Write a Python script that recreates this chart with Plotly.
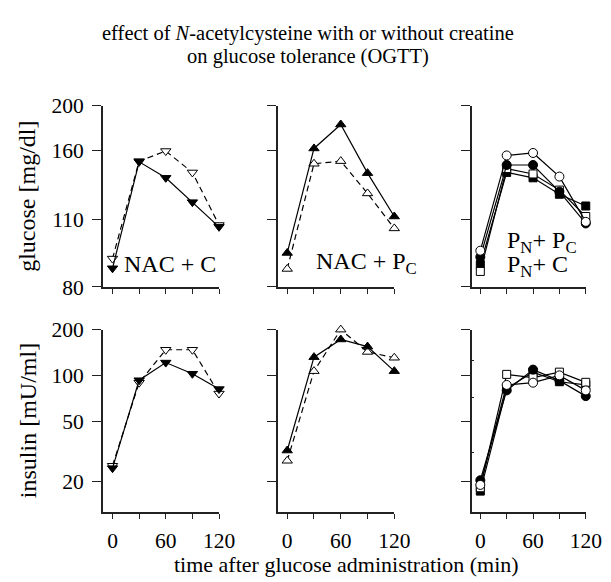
import numpy as np
import plotly.graph_objects as go

# ---------------- data ----------------
time_min = [0, 30, 60, 90, 120]
x_major_vals = [0, 60, 120]
x_major_text = ["0", "60", "120"]
x_minor_vals = [30, 90]

# glucose axis (tick labels and their relative positions as printed on the original axis)
glu_tick_vals = [80, 110, 160, 200]
glu_tick_pos = [0.0, 0.373, 0.754, 1.0]
glu_tick_text = ["80", "110", "160", "200"]

ins_tick_vals = [20, 50, 100, 200]
ins_tick_text = ["20", "50", "100", "200"]
ins_minor_vals = [31, 72, 125]
ins_range = [12.64, 200]

# panel 1: NAC + C
g_nac_c_solid = [88.3, 151.7, 140.1, 122.5, 106.7]
g_nac_c_dash = [92.6, 152.2, 159.5, 144.0, 107.5]
i_nac_c_solid = [24.5, 92.9, 121.4, 102.5, 81.2]
i_nac_c_dash = [25.4, 89.5, 147.4, 147.4, 75.9]

# panel 2: NAC + P_C
g_nac_pc_solid = [95.1, 161.7, 183.2, 143.5, 112.1]
g_nac_pc_dash = [88.0, 150.3, 152.2, 128.8, 106.0]
i_nac_pc_solid = [32.0, 131.8, 172.3, 154.7, 106.6]
i_nac_pc_dash = [27.4, 106.6, 200.0, 142.6, 130.6]

# panel 3: P_N + P_C / P_N + C
g_pn_open_circle = [96.1, 156.3, 158.1, 141.0, 108.9]
g_pn_fill_circle = [93.3, 149.4, 149.4, 130.1, 108.2]
g_pn_open_square = [86.9, 146.8, 142.9, 131.2, 112.1]
g_pn_fill_square = [90.0, 144.0, 140.1, 128.2, 119.7]
i_pn_open_circle = [19.0, 86.5, 89.5, 100.0, 79.6]
i_pn_fill_circle = [20.4, 79.6, 109.1, 92.3, 73.0]
i_pn_open_square = [18.2, 101.5, 96.6, 105.0, 90.0]
i_pn_fill_square = [17.3, 82.0, 105.0, 90.8, 86.5]

title_lines = ["effect of <i>N</i>-acetylcysteine with or without creatine",
               "on glucose tolerance (OGTT)"]
panel_labels = ["NAC + C", "NAC + P<sub>C</sub>"]
panel3_labels = ["P<sub>N</sub>+ P<sub>C</sub>", "P<sub>N</sub>+ C"]
y_titles = ["glucose [mg/dl]", "insulin [mU/ml]"]
x_title = "time after glucose administration (min)"


def glu(v):
    return list(np.interp(v, glu_tick_vals, glu_tick_pos))


W, H = 611, 582
FONT = "Liberation Serif"
AX = "#222222"

fig = go.Figure()

col_px = [(97.3, 216.7), (277.3, 396.7), (476.0, 593.3)]
x_lo = [-11.0, -10.3, -10.0]
row_top_px = (90.5, 279.5)
row_bot_px = (324.0, 514.0)


def px_x(a, b):
    return [a / W, b / W]


def px_y(a, b):
    return [1 - b / H, 1 - a / H]


def add_line(xref, yref, y, dash, symbol, filled, size=9):
    fig.add_trace(go.Scatter(
        x=time_min, y=y, xaxis=xref, yaxis=yref, mode="lines+markers",
        line=dict(color="black", width=1.2, dash="6px,4px" if dash else "solid"),
        marker=dict(symbol=symbol, size=size,
                    color="black" if filled else "white",
                    line=dict(color="black", width=1)),
        cliponaxis=False, showlegend=False, hoverinfo="skip"))


# glucose row axes: x1..x3 / y1..y3 ; insulin row: x4..x6 / y4..y6
# panel 1
add_line("x", "y", glu(g_nac_c_dash), True, "triangle-down", False)
add_line("x", "y", glu(g_nac_c_solid), False, "triangle-down", True)
add_line("x4", "y4", i_nac_c_dash, True, "triangle-down", False)
add_line("x4", "y4", i_nac_c_solid, False, "triangle-down", True)
# panel 2
add_line("x2", "y2", glu(g_nac_pc_dash), True, "triangle-up", False)
add_line("x2", "y2", glu(g_nac_pc_solid), False, "triangle-up", True)
add_line("x5", "y5", i_nac_pc_dash, True, "triangle-up", False)
add_line("x5", "y5", i_nac_pc_solid, False, "triangle-up", True)
# panel 3
for yref, data in (("y3", [glu(g_pn_fill_square), glu(g_pn_open_square),
                           glu(g_pn_fill_circle), glu(g_pn_open_circle)]),
                   ("y6", [i_pn_fill_square, i_pn_open_square,
                           i_pn_fill_circle, i_pn_open_circle])):
    xref = "x3" if yref == "y3" else "x6"
    add_line(xref, yref, data[0], False, "square", True, 8)
    add_line(xref, yref, data[1], False, "square", False, 8)
    add_line(xref, yref, data[2], False, "circle", True, 9)
    add_line(xref, yref, data[3], False, "circle", False, 9)

tickfont = dict(family=FONT, size=21.5, color="black")
layout = dict(width=W, height=H, margin=dict(l=0, r=0, t=0, b=0),
              paper_bgcolor="white", plot_bgcolor="white", showlegend=False)

for i in range(6):
    c = i % 3
    r = i // 3
    xname = "xaxis" if i == 0 else f"xaxis{i+1}"
    yname = "yaxis" if i == 0 else f"yaxis{i+1}"
    layout[xname] = dict(
        domain=px_x(*col_px[c]), range=[x_lo[c], 120], anchor="y" if i == 0 else f"y{i+1}",
        showline=True, linecolor=AX, linewidth=1.5, showgrid=False, zeroline=False,
        ticks="outside", ticklen=5, tickwidth=1.2, tickcolor=AX,
        tickmode="array", tickvals=x_major_vals, ticktext=x_major_text,
        minor=dict(tickmode="array", tickvals=x_minor_vals, ticks="outside",
                   ticklen=5, tickwidth=1.2, tickcolor=AX, showgrid=False),
        showticklabels=(r == 1), tickfont=tickfont, ticklabelstandoff=4,
        fixedrange=True)
    ydict = dict(
        domain=px_y(*(row_top_px if r == 0 else row_bot_px)),
        anchor="x" if i == 0 else f"x{i+1}",
        showline=True, linecolor=AX, linewidth=1.5, showgrid=False, zeroline=False,
        ticks="outside", ticklen=9, tickwidth=1.2, tickcolor=AX,
        tickmode="array", showticklabels=(c == 0), tickfont=tickfont,
        ticklabelstandoff=4, fixedrange=True)
    if r == 0:
        ydict.update(range=[0, 1], tickvals=glu_tick_pos, ticktext=glu_tick_text)
    else:
        ydict.update(type="log", range=[np.log10(ins_range[0]), np.log10(ins_range[1])],
                     tickvals=ins_tick_vals, ticktext=ins_tick_text)
        if c == 2:
            ydict["minor"] = dict(tickmode="array", tickvals=ins_minor_vals,
                                  ticks="inside", ticklen=3, tickcolor=AX, tickwidth=1)
    layout[yname] = ydict

fig.update_layout(**layout)


def note(text, x, y, size, xanchor="center", angle=0):
    return dict(text=text, x=x / W, y=1 - y / H, xref="paper", yref="paper",
                showarrow=False, textangle=angle,
                font=dict(family=FONT, size=size, color="black"),
                xanchor=xanchor, yanchor="middle")


ann = [
    note(title_lines[0], 308, 15, 20.5),
    note(title_lines[1], 308, 39, 20.5),
    note(panel_labels[0], 117, 256, 24, "left"),
    note(panel_labels[1], 314, 254, 24, "left"),
    note(panel3_labels[0], 510, 233, 24, "left"),
    note(panel3_labels[1], 510, 258, 24, "left"),
    note(y_titles[0], 20, 185, 24, angle=-90),
    note(y_titles[1], 20, 419, 24, angle=-90),
    note(x_title, 348, 569, 22),
]
fig.update_layout(annotations=ann)

fig.write_html("out.html")
